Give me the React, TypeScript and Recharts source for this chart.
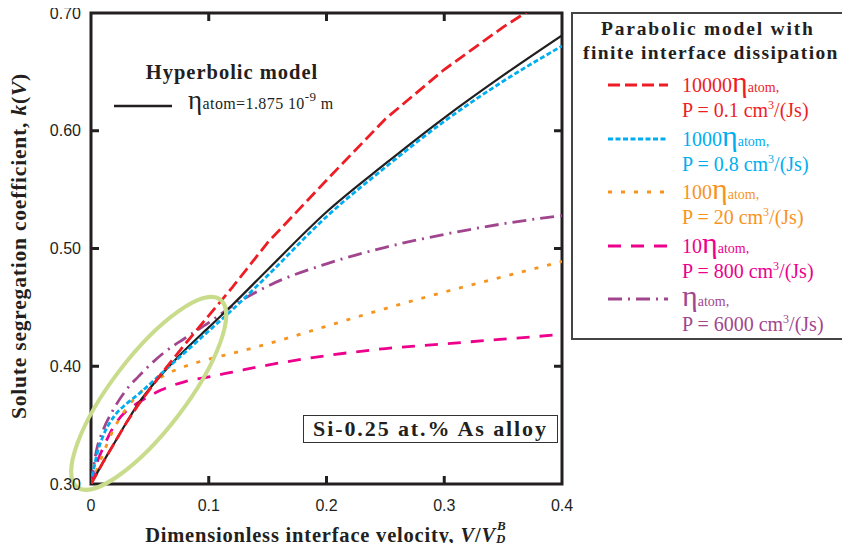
import React from 'react';
import { LineChart, Line, XAxis, YAxis, ReferenceDot, ReferenceArea } from 'recharts';

// Dimensionless interface velocity V / V_D^B
const velocity = [0, 0.005, 0.01, 0.02, 0.03, 0.04, 0.06, 0.08, 0.1, 0.12, 0.15, 0.2, 0.25, 0.3, 0.35, 0.4];
// Hyperbolic model, eta_atom = 1.875e-9 m
const hyperbolic = [0.30, 0.309, 0.318, 0.335, 0.352, 0.368, 0.393, 0.414, 0.433, 0.452, 0.482, 0.531, 0.572, 0.611, 0.647, 0.681];
// Parabolic model with finite interface dissipation
const eta10000 = [0.30, 0.309, 0.318, 0.335, 0.352, 0.367, 0.394, 0.419, 0.443, 0.467, 0.505, 0.558, 0.610, 0.652, 0.688, 0.720];
const eta1000 = [0.30, 0.325, 0.340, 0.358, 0.368, 0.376, 0.394, 0.412, 0.430, 0.448, 0.477, 0.527, 0.569, 0.608, 0.642, 0.672];
const eta100 = [0.30, 0.312, 0.325, 0.348, 0.364, 0.376, 0.391, 0.400, 0.406, 0.411, 0.419, 0.434, 0.449, 0.463, 0.476, 0.489];
const eta10 = [0.30, 0.318, 0.330, 0.350, 0.362, 0.369, 0.380, 0.387, 0.391, 0.395, 0.401, 0.409, 0.415, 0.419, 0.423, 0.427];
const eta1 = [0.30, 0.330, 0.345, 0.365, 0.380, 0.391, 0.410, 0.424, 0.437, 0.451, 0.468, 0.487, 0.501, 0.512, 0.521, 0.528];

const xTicks = [0, 0.1, 0.2, 0.3, 0.4];
const yTicks = [0.3, 0.4, 0.5, 0.6, 0.7];
const X_MIN = 0;
const X_MAX = 0.4;
const Y_MIN = 0.3;
const Y_MAX = 0.7;

const parabolicFactors = ['10000', '1000', '100', '10', ''];
const parabolicP = ['0.1', '0.8', '20', '800', '6000'];
const parabolicKeys = ['e10000', 'e1000', 'e100', 'e10', 'e1'];
const parabolicValues = [eta10000, eta1000, eta100, eta10, eta1];
const parabolicColors = ['#ee1d25', '#00aeef', '#f7941d', '#ec008c', '#a1468e'];
const parabolicDashes = ['12 5', '5 2.5', '4 9', '13 10', '14 6 2 6'];

const data = velocity.map((v, i) => {
  const row: Record<string, number> = { v, hyper: hyperbolic[i] };
  parabolicKeys.forEach((k, j) => {
    row[k] = parabolicValues[j][i];
  });
  return row;
});

const SERIF = '"Liberation Serif", "Times New Roman", serif';
const SANS = '"Liberation Sans", Arial, sans-serif';
const INK = '#231f20';

const fmtX = (t: number) => (t === 0 ? '0' : t.toFixed(1));
const fmtY = (t: number) => t.toFixed(2);

const BottomTick = (p: any) => (
  <text x={Number(p.x)} y={Number(p.y)} dy="0.71em" textAnchor="middle" fill={INK} fontSize={16} fontFamily={SANS}>
    {fmtX(p.payload.value)}
  </text>
);
const LeftTick = (p: any) => (
  <text x={Number(p.x)} y={Number(p.y)} dy="0.355em" textAnchor="end" fill={INK} fontSize={16} fontFamily={SANS}>
    {fmtY(p.payload.value)}
  </text>
);

// Plot frame with inward ticks on all four sides; the rectangle comes from the axes' scales
const FrameShape = (p: any) => {
  const w = Math.abs(Number(p.width));
  const h = Math.abs(Number(p.height));
  const x = Number(p.width) < 0 ? Number(p.x) - w : Number(p.x);
  const y = Number(p.height) < 0 ? Number(p.y) - h : Number(p.y);
  let d = `M${x},${y}h${w}v${h}h${-w}Z`;
  xTicks.forEach((t) => {
    const px = x + ((t - X_MIN) / (X_MAX - X_MIN)) * w;
    d += `M${px},${y + h}v-8M${px},${y}v8`;
  });
  yTicks.forEach((t) => {
    const py = y + h - ((t - Y_MIN) / (Y_MAX - Y_MIN)) * h;
    d += `M${x},${py}h8M${x + w},${py}h-8`;
  });
  return <path d={d} fill="none" stroke={INK} strokeWidth={3} />;
};

const EllipseShape = (p: any) => (
  <ellipse
    cx={p.cx}
    cy={p.cy}
    rx={118}
    ry={37}
    transform={`rotate(-52.6 ${p.cx} ${p.cy})`}
    fill="none"
    stroke="#c8dc8c"
    strokeWidth={4}
  />
);

export default function App() {
  const legendTop = 85;
  const legendStep = 53.5;
  return (
    <div style={{ position: 'relative', width: 850, height: 551, margin: -8, overflow: 'hidden', background: '#fff' }}>
      <div style={{ position: 'absolute', left: 0, top: 0 }}>
        <LineChart width={850} height={551} data={data} margin={{ top: 13, right: 288, bottom: 37, left: 31 }}>
          <XAxis
            dataKey="v"
            type="number"
            domain={[X_MIN, X_MAX]}
            ticks={xTicks}
            height={30}
            axisLine={false}
            tickLine={false}
            tickSize={0}
            tickMargin={16}
            tick={BottomTick}
            allowDataOverflow
          />
          <YAxis
            type="number"
            domain={[Y_MIN, Y_MAX]}
            ticks={yTicks}
            width={60}
            axisLine={false}
            tickLine={false}
            tickSize={0}
            tickMargin={10}
            tick={LeftTick}
            allowDataOverflow
          />
          <ReferenceArea x1={X_MIN} x2={X_MAX} y1={Y_MIN} y2={Y_MAX} ifOverflow="visible" shape={FrameShape} />
          <Line dataKey="e1" type="monotone" stroke={parabolicColors[4]} strokeWidth={2.8} strokeDasharray={parabolicDashes[4]} dot={false} isAnimationActive={false} />
          <Line dataKey="e10" type="monotone" stroke={parabolicColors[3]} strokeWidth={2.8} strokeDasharray={parabolicDashes[3]} dot={false} isAnimationActive={false} />
          <Line dataKey="e100" type="monotone" stroke={parabolicColors[2]} strokeWidth={2.8} strokeDasharray={parabolicDashes[2]} dot={false} isAnimationActive={false} />
          <Line dataKey="hyper" type="monotone" stroke={INK} strokeWidth={2.2} dot={false} isAnimationActive={false} />
          <Line dataKey="e1000" type="monotone" stroke={parabolicColors[1]} strokeWidth={2.8} strokeDasharray={parabolicDashes[1]} dot={false} isAnimationActive={false} />
          <Line dataKey="e10000" type="linear" stroke={parabolicColors[0]} strokeWidth={2.8} strokeDasharray={parabolicDashes[0]} dot={false} isAnimationActive={false} />
          <ReferenceDot x={0.049} y={0.377} ifOverflow="visible" shape={EllipseShape} />
        </LineChart>
      </div>

      {/* Y axis title */}
      <div
        style={{
          position: 'absolute',
          left: 19,
          top: 246,
          transform: 'translate(-50%, -50%) rotate(-90deg)',
          whiteSpace: 'nowrap',
          fontFamily: SERIF,
          fontWeight: 'bold',
          fontSize: 21.5,
          color: INK,
          letterSpacing: 0.8,
        }}
      >
        Solute segregation coefficient, <i>k</i>(<i>V</i>)
      </div>

      {/* X axis title */}
      <div
        style={{
          position: 'absolute',
          left: 326,
          top: 535,
          transform: 'translate(-50%, -50%)',
          whiteSpace: 'nowrap',
          fontFamily: SERIF,
          fontWeight: 'bold',
          fontSize: 20.5,
          color: INK,
          letterSpacing: 0.8,
          lineHeight: '24px',
        }}
      >
        Dimensionless interface velocity, <i>V</i>/<i>V</i>
        <span style={{ display: 'inline-block', position: 'relative', width: 11, height: 10 }}>
          <i style={{ position: 'absolute', left: 1, top: -13, fontSize: 13, lineHeight: '14px' }}>B</i>
          <i style={{ position: 'absolute', left: 0, top: 0, fontSize: 13, lineHeight: '14px' }}>D</i>
        </span>
      </div>

      {/* Hyperbolic model annotation */}
      <div style={{ position: 'absolute', left: 232, top: 72, transform: 'translate(-50%, -50%)', whiteSpace: 'nowrap', fontFamily: SERIF, fontWeight: 'bold', fontSize: 20.5, color: INK, letterSpacing: 1 }}>
        Hyperbolic model
      </div>
      <svg style={{ position: 'absolute', left: 114, top: 101 }} width={60} height={10}>
        <line x1={0} y1={5} x2={58} y2={5} stroke={INK} strokeWidth={2.5} />
      </svg>
      <div style={{ position: 'absolute', left: 188, top: 92, whiteSpace: 'nowrap', fontFamily: SERIF, fontSize: 16, color: INK, lineHeight: '24px', letterSpacing: 0.4 }}>
        <span style={{ fontSize: 27, lineHeight: '0px' }}>η</span>atom=1.875 10
        <span style={{ fontSize: 13, position: 'relative', top: -8 }}>-9</span> m
      </div>

      {/* Alloy label */}
      <div
        style={{
          position: 'absolute',
          left: 303,
          top: 415,
          width: 255,
          height: 28,
          border: '1.5px solid #333',
          boxSizing: 'border-box',
          fontFamily: SERIF,
          fontWeight: 'bold',
          fontSize: 22,
          lineHeight: '25px',
          textAlign: 'center',
          color: INK,
          background: '#fff',
          letterSpacing: 1.9,
          whiteSpace: 'nowrap',
        }}
      >
        Si-0.25 at.% As alloy
      </div>

      {/* Legend for the parabolic model */}
      <div
        style={{
          position: 'absolute',
          left: 571,
          top: 12,
          width: 300,
          height: 328,
          border: '2px solid #444',
          boxSizing: 'border-box',
          background: '#fff',
        }}
      />
      <div style={{ position: 'absolute', left: 601, top: 17, whiteSpace: 'nowrap', fontFamily: SERIF, fontWeight: 'bold', fontSize: 19.5, color: INK, letterSpacing: 1.8, lineHeight: '24px' }}>
        Parabolic model with
      </div>
      <div style={{ position: 'absolute', left: 583, top: 41, whiteSpace: 'nowrap', fontFamily: SERIF, fontWeight: 'bold', fontSize: 19.5, color: INK, letterSpacing: 1.4, lineHeight: '24px' }}>
        finite interface dissipation
      </div>
      {parabolicKeys.map((k, j) => {
        const y = legendTop + j * legendStep;
        const c = parabolicColors[j];
        return (
          <React.Fragment key={k}>
            <svg style={{ position: 'absolute', left: 608, top: y - 5 }} width={62} height={10}>
              <line x1={0} y1={5} x2={60} y2={5} stroke={c} strokeWidth={3} strokeDasharray={parabolicDashes[j]} />
            </svg>
            <div style={{ position: 'absolute', left: 682, top: y - 14, whiteSpace: 'nowrap', fontFamily: SERIF, fontSize: 20, color: c, lineHeight: '28px' }}>
              {parabolicFactors[j]}
              <span style={{ fontSize: 30, lineHeight: '0px' }}>η</span>
              <span style={{ fontSize: 14 }}>atom,</span>
            </div>
            <div style={{ position: 'absolute', left: 682, top: y + 11, whiteSpace: 'nowrap', fontFamily: SERIF, fontSize: 20, color: c, lineHeight: '28px' }}>
              P = {parabolicP[j]} cm<span style={{ fontSize: 12, position: 'relative', top: -8 }}>3</span>/(Js)
            </div>
          </React.Fragment>
        );
      })}
    </div>
  );
}
